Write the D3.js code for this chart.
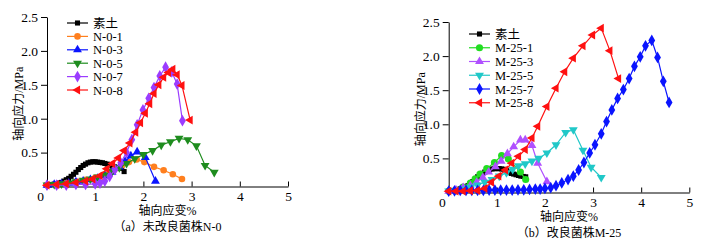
<!DOCTYPE html>
<html>
<head>
<meta charset="utf-8">
<script src="https://cdn.jsdelivr.net/npm/d3@7"></script>
<style>
  body { margin: 0; background: #fff; }
  svg { display: block; }
  text { font-family: "Liberation Serif", "Noto Sans CJK SC", serif; fill: #000; }
</style>
</head>
<body>
<svg id="chart" width="703" height="244"></svg>
<script>
// ---- data (strain %, stress MPa) ----
var xTicks = [1, 2, 3, 4, 5];
var yTicks = [0.5, 1.0, 1.5, 2.0, 2.5];

// panel (a)
var sutuA = [[0,0.02],[0.05,0.025],[0.1,0.03],[0.15,0.035],[0.2,0.04],[0.25,0.05],[0.3,0.06],[0.35,0.08],
  [0.4,0.1],[0.45,0.12],[0.5,0.15],[0.55,0.18],[0.6,0.21],[0.65,0.25],[0.7,0.28],[0.75,0.31],[0.8,0.33],
  [0.85,0.35],[0.9,0.36],[0.95,0.365],[1.0,0.365],[1.05,0.36],[1.1,0.355],[1.15,0.35],[1.2,0.34],
  [1.25,0.33],[1.3,0.32],[1.35,0.3],[1.4,0.29],[1.45,0.28],[1.5,0.27],[1.55,0.27],[1.6,0.22]];
var n01 = [[0,0.02],[0.2,0.03],[0.4,0.05],[0.6,0.07],[0.8,0.1],[1.0,0.13],[1.2,0.18],[1.4,0.25],[1.55,0.31],
  [1.7,0.36],[1.86,0.4],[2.02,0.36],[2.22,0.29],[2.42,0.24],[2.61,0.18],[2.8,0.11]];
var n03 = [[0,0.02],[0.15,0.03],[0.3,0.04],[0.45,0.05],[0.6,0.07],[0.75,0.08],[0.9,0.1],[1.05,0.12],[1.2,0.16],
  [1.35,0.21],[1.5,0.29],[1.62,0.37],[1.74,0.45],[1.87,0.51],[2.04,0.43],[2.25,0.08]];
var n05 = [[0,0.02],[0.15,0.03],[0.3,0.04],[0.45,0.05],[0.6,0.07],[0.75,0.09],[0.9,0.11],[1.05,0.14],[1.2,0.17],
  [1.35,0.22],[1.5,0.28],[1.65,0.34],[1.82,0.41],[2.0,0.47],[2.19,0.53],[2.37,0.61],[2.56,0.66],[2.74,0.71],
  [2.92,0.69],[3.1,0.6],[3.28,0.31],[3.47,0.21]];
var n07 = [[0,0.02],[0.2,0.02],[0.4,0.02],[0.6,0.03],[0.8,0.03],[1.0,0.04],[1.1,0.05],[1.2,0.08],[1.3,0.15],
  [1.41,0.25],[1.53,0.35],[1.65,0.5],[1.76,0.69],[1.87,0.91],[1.99,1.13],[2.11,1.3],[2.22,1.46],[2.34,1.63],
  [2.46,1.76],[2.59,1.69],[2.7,1.51],[2.81,0.97]];
var n08 = [[0,0.02],[0.2,0.03],[0.4,0.04],[0.6,0.06],[0.8,0.08],[0.95,0.11],[1.1,0.16],[1.24,0.26],[1.36,0.34],
  [1.48,0.42],[1.6,0.53],[1.72,0.64],[1.84,0.8],[1.94,0.94],[2.04,1.08],[2.13,1.22],[2.22,1.37],[2.32,1.5],
  [2.42,1.61],[2.52,1.68],[2.61,1.73],[2.7,1.65],[2.8,1.49],[2.97,0.98]];

// panel (b)
var sutuB = [[0,0.02],[0.05,0.025],[0.1,0.03],[0.15,0.035],[0.2,0.045],[0.25,0.055],[0.3,0.07],[0.35,0.085],
  [0.4,0.1],[0.45,0.13],[0.5,0.16],[0.55,0.19],[0.6,0.23],[0.65,0.26],[0.7,0.28],[0.75,0.3],[0.8,0.32],
  [0.85,0.335],[0.9,0.345],[0.95,0.35],[1.0,0.35],[1.05,0.35],[1.1,0.345],[1.15,0.34],[1.2,0.32],[1.25,0.3],
  [1.3,0.28],[1.35,0.27],[1.4,0.26],[1.45,0.25],[1.5,0.24],[1.55,0.235],[1.6,0.23]];
var m251 = [[0,0.02],[0.15,0.04],[0.3,0.08],[0.45,0.14],[0.55,0.2],[0.65,0.27],[0.79,0.35],[0.95,0.44],
  [1.1,0.54],[1.24,0.49],[1.49,0.3],[1.6,0.19]];
var m253 = [[0,0.02],[0.15,0.04],[0.3,0.07],[0.45,0.1],[0.58,0.15],[0.71,0.22],[0.83,0.3],[0.97,0.38],
  [1.09,0.46],[1.22,0.57],[1.35,0.67],[1.49,0.77],[1.59,0.77],[1.73,0.69],[1.85,0.43],[2.04,0.16]];
var m255 = [[0,0.02],[0.15,0.03],[0.3,0.05],[0.45,0.08],[0.6,0.11],[0.75,0.15],[0.9,0.19],[1.05,0.24],
  [1.2,0.29],[1.33,0.34],[1.45,0.39],[1.59,0.42],[1.73,0.46],[1.87,0.5],[2.04,0.58],[2.23,0.7],[2.43,0.88],
  [2.59,0.92],[2.79,0.62],[2.96,0.37],[3.17,0.22]];
var m257 = [[0,0.02],[0.12,0.025],[0.24,0.03],[0.36,0.03],[0.48,0.03],[0.6,0.03],[0.72,0.03],[0.84,0.035],
  [0.96,0.035],[1.08,0.035],[1.2,0.035],[1.32,0.035],[1.44,0.04],[1.56,0.04],[1.68,0.045],[1.8,0.05],
  [1.9,0.05],[2.0,0.06],[2.12,0.07],[2.23,0.1],[2.35,0.14],[2.48,0.19],[2.59,0.24],[2.7,0.33],[2.81,0.44],
  [2.93,0.58],[3.04,0.7],[3.17,0.86],[3.28,1.04],[3.39,1.21],[3.51,1.38],[3.63,1.51],[3.75,1.67],[3.86,1.85],
  [3.98,1.99],[4.09,2.15],[4.22,2.23],[4.34,1.98],[4.46,1.63],[4.58,1.32]];
var m258 = [[0,0.02],[0.15,0.02],[0.3,0.02],[0.45,0.025],[0.6,0.03],[0.75,0.06],[0.89,0.15],[1.04,0.24],
  [1.18,0.33],[1.31,0.43],[1.45,0.53],[1.59,0.63],[1.73,0.8],[1.85,0.97],[2.04,1.26],[2.23,1.53],[2.41,1.77],
  [2.59,1.97],[2.79,2.15],[2.99,2.31],[3.17,2.41],[3.35,2.08],[3.53,1.67]];

var namesA = ["素土", "N-0-1", "N-0-3", "N-0-5", "N-0-7", "N-0-8"];
var namesB = ["素土", "M-25-1", "M-25-3", "M-25-5", "M-25-7", "M-25-8"];

// marker shapes: [d3 symbol, rotation]
var shapesA = [["square",0],["circle",0],["tri",0],["tri",180],["diamond",0],["tri",-90]];
var shapesB = [["square",0],["circle",0],["tri",0],["tri",180],["diamond",0],["tri",-90]];
var colorsA = ["#000000", "#ff7f1e", "#0a14ff", "#1e8c1e", "#9b3cff", "#ff1010"];
var colorsB = ["#000000", "#22dd22", "#b050ff", "#20c8c8", "#0a14ff", "#ff1010"];

var svg = d3.select("#chart");

function symbolPath(kind, size) {
  var t = {square: d3.symbolSquare, circle: d3.symbolCircle, tri: d3.symbolTriangle, diamond: d3.symbolDiamond}[kind];
  return d3.symbol().type(t).size(size)();
}

function drawPanel(p) {
  var x = d3.scaleLinear().domain([0, 5]).range([p.left, p.right]);
  var y = d3.scaleLinear().domain([0, 2.5]).range([p.bottom, p.top]);
  var g = svg.append("g");

  // x axis, ticks pointing inward
  var xa = g.append("g").attr("transform", "translate(0," + p.bottom + ")")
    .call(d3.axisBottom(x).tickValues(xTicks).tickFormat(d3.format("d"))
      .tickSizeInner(-5).tickSizeOuter(0).tickPadding(5));
  // y axis
  var ya = g.append("g").attr("transform", "translate(" + p.left + ",0)")
    .call(d3.axisLeft(y).tickValues(yTicks).tickFormat(d3.format(".1f")).tickSize(6).tickSizeOuter(0).tickPadding(3));
  [xa, ya].forEach(function(a) {
    a.select(".domain").attr("stroke", "#000").attr("stroke-width", 1);
    a.selectAll(".tick line").attr("stroke", "#000");
    a.selectAll("text").style("font-size", "13.5px").attr("fill", "#000");
  });
  g.append("text").attr("x", p.left - 3).attr("y", p.bottom + 14)
    .attr("text-anchor", "end").style("font-size", "13.5px").text("0");

  // axis titles
  g.append("text").attr("x", (p.left + p.right) / 2).attr("y", p.bottom + 28)
    .attr("text-anchor", "middle").style("font-size", "12px").text("轴向应变%");
  g.append("text").attr("transform", "translate(" + (p.left - 24) + "," + ((p.top + p.bottom) / 2 + 2) + ") rotate(-90)")
    .attr("text-anchor", "middle").style("font-size", "12px").text("轴向应力/MPa");
  g.append("text").attr("x", (p.left + p.right) / 2).attr("y", p.bottom + 44)
    .attr("text-anchor", "middle").style("font-size", "12px").text(p.caption);

  var line = d3.line().x(function(d) { return x(d[0]); }).y(function(d) { return y(d[1]); });

  p.series.forEach(function(s, i) {
    var sg = g.append("g");
    sg.append("path").datum(s).attr("d", line).attr("fill", "none")
      .attr("stroke", p.colors[i]).attr("stroke-width", 1.2);
    sg.selectAll("path.m").data(s).enter().append("path").attr("class", "m")
      .attr("d", symbolPath(p.shapes[i][0], p.msize[i]))
      .attr("transform", function(d) {
        return "translate(" + x(d[0]) + "," + y(d[1]) + ") rotate(" + p.shapes[i][1] + ")";
      })
      .attr("fill", p.colors[i]);
  });

  // legend
  p.names.forEach(function(n, i) {
    var ly = p.legY + i * p.legStep;
    g.append("line").attr("x1", p.legX).attr("x2", p.legX + 21).attr("y1", ly).attr("y2", ly)
      .attr("stroke", p.colors[i]).attr("stroke-width", 1.2);
    g.append("path").attr("d", symbolPath(p.shapes[i][0], p.msize[i]))
      .attr("transform", "translate(" + (p.legX + 10.5) + "," + ly + ") rotate(" + p.shapes[i][1] + ")")
      .attr("fill", p.colors[i]);
    g.append("text").attr("x", p.legX + 26).attr("y", ly + 4.5)
      .style("font-size", "12.5px").text(n);
  });
}

drawPanel({
  left: 47, right: 288, top: 17, bottom: 186.5,
  series: [sutuA, n01, n03, n05, n07, n08], names: namesA, colors: colorsA, shapes: shapesA,
  msize: [26, 34, 34, 34, 40, 34],
  legX: 67, legY: 23, legStep: 13.4, caption: "（a）未改良菌株N-0"
});
drawPanel({
  left: 448.7, right: 689.3, top: 22, bottom: 192.5,
  series: [sutuB, m251, m253, m255, m257, m258], names: namesB, colors: colorsB, shapes: shapesB,
  msize: [26, 40, 34, 34, 40, 34],
  legX: 469, legY: 34, legStep: 13.75, caption: "（b）改良菌株M-25"
});
</script>
</body>
</html>
